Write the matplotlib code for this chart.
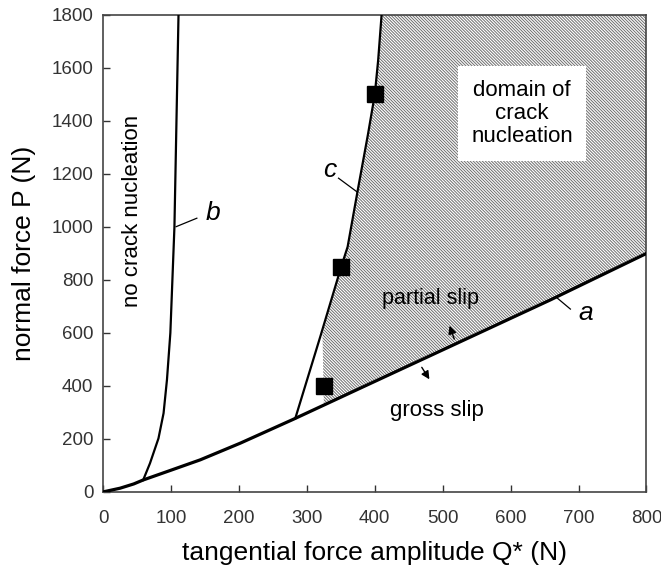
import numpy as np
import matplotlib
matplotlib.use("Agg")
import matplotlib.pyplot as plt

plt.rcParams['font.family'] = ['Liberation Sans', 'DejaVu Sans']
plt.rcParams['hatch.linewidth'] = 0.7

# curve a : partial slip / gross slip boundary
a_q = [0, 25, 45, 59, 100, 143, 202, 280, 400, 658, 800]
a_p = [0, 14, 30, 45, 82, 121, 184, 274, 417, 724, 900]

# curve b
b_q = [59, 69, 81.5, 89, 94, 99, 102, 105, 108, 111]
b_p = [45, 108, 202, 297, 423, 600, 800, 1000, 1400, 1800]

# curve c
c_q = [283, 320, 350, 360, 375, 390, 400, 405, 410]
c_p = [278, 588, 845, 925, 1140, 1350, 1500, 1630, 1800]

# experimental points
exp_q = [325, 350, 400]
exp_p = [400, 850, 1500]

# hatched domain of crack nucleation
hatch_q = [325, 323, 350, 360, 375, 390, 400, 405, 410, 800, 800, 658, 400, 325]
hatch_p = [328, 600, 845, 925, 1140, 1350, 1500, 1630, 1800, 1800, 900, 724, 417, 328]

fig = plt.figure(figsize=(6.61, 5.76), dpi=100)
ax = fig.add_axes([0.156, 0.146, 0.822, 0.828])

ax.fill(hatch_q, hatch_p, facecolor='white', edgecolor='#6e6e6e', linewidth=0,
        hatch='\\' * 11, zorder=1)

ax.plot(a_q, a_p, color='black', lw=2.3, zorder=3)
ax.plot(b_q, b_p, color='black', lw=1.6, zorder=3)
ax.plot(c_q, c_p, color='black', lw=1.6, zorder=3)
ax.plot(exp_q, exp_p, 's', color='black', ms=11, zorder=4)

# labels of the curves
ax.plot([107.5, 138], [1001, 1033], color='black', lw=0.9)
ax.text(161, 1053, 'b', style='italic', fontsize=19, ha='center', va='center')
ax.plot([373.5, 346.6], [1133, 1184], color='black', lw=0.9)
ax.text(333, 1215, 'c', style='italic', fontsize=19, ha='center', va='center')
ax.plot([668, 688], [733, 690], color='black', lw=0.9)
ax.text(710, 677, 'a', style='italic', fontsize=19, ha='center', va='center')

# arrows across line a
ax.annotate('', xy=(508.6, 637), xytext=(518.4, 567),
            arrowprops=dict(arrowstyle='-|>', color='black', lw=1.0, mutation_scale=12))
ax.annotate('', xy=(482.6, 416), xytext=(467, 479),
            arrowprops=dict(arrowstyle='-|>', color='black', lw=1.0, mutation_scale=12))

ax.text(482, 731, 'partial slip', fontsize=15.5, ha='center', va='center', zorder=5)
ax.text(491, 309, 'gross slip', fontsize=16, ha='center', va='center')
ax.text(617, 1428, 'domain of\ncrack\nnucleation', fontsize=16, ha='center', va='center',
        linespacing=1.15,
        bbox=dict(boxstyle='square,pad=0.6', facecolor='white', edgecolor='none'), zorder=5)
ax.text(43, 1060, 'no crack nucleation', fontsize=16, rotation=90, ha='center', va='center')

ax.set_xlim(0, 800)
ax.set_ylim(0, 1800)
ax.set_xticks(np.arange(0, 801, 100))
ax.set_yticks(np.arange(0, 1801, 200))
ax.tick_params(direction='in', length=5, width=1, labelsize=13.5, colors='#333333')
ax.tick_params(axis='x', pad=13)
ax.tick_params(axis='y', pad=7)
for sp in ax.spines.values():
    sp.set_color('#444444')
    sp.set_linewidth(1.2)

ax.set_xlabel('tangential force amplitude Q* (N)', fontsize=19, labelpad=10)
ax.set_ylabel('normal force P (N)', fontsize=19, labelpad=11)

fig.savefig('out.png', dpi=100)
